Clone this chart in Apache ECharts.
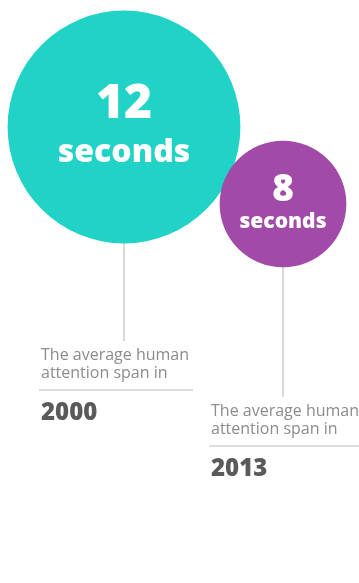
<!DOCTYPE html>
<html><head><meta charset="utf-8">
<script src="https://cdn.jsdelivr.net/npm/echarts@6/dist/echarts.min.js"></script>
<style>html,body{margin:0;padding:0;background:#fff}#c{width:359px;height:583px}</style>
</head><body><div id="c"></div>
<script>
// ---- data ----
const years = ['2000', '2013'];
const seconds = [12, 8];
const unitLabel = 'seconds';
const captionLines = ['The average human', 'attention span in'];

// ---- styles / layout ----
const colors = ['#20D3C6', '#A24AA7'];
const numberFont = [48, 37];
const unitFont = [32, 21];
const numberOffset = [-23, -14];
const unitOffset = [26, 18];
const captionLeft = [41, 211];
const captionY = [355, 411];
const FONT = '"Open Sans", "DejaVu Sans", sans-serif';

function diameter(v) { return 5.6 * Math.pow(v, 1.5); }

const chart = echarts.init(document.getElementById('c'), null, { renderer: 'canvas' });
chart.setOption({
  backgroundColor: '#ffffff',
  animation: false,
  grid: { left: 124, right: 76, top: 50, height: 231 },
  xAxis: { type: 'category', data: years, boundaryGap: false, show: false },
  yAxis: { type: 'value', min: 4, max: 16, show: false },
  series: [{
    type: 'custom',
    data: years.map((y, i) => [i, seconds[i]]),
    renderItem(params, api) {
      const i = params.dataIndex;
      const v = api.value(1);
      const c = api.coord([api.value(0), v]);
      const r = diameter(v) / 2;
      const cy0 = captionY[i];
      const lx = captionLeft[i];
      return {
        type: 'group',
        children: [
          { type: 'line', z2: 0, shape: { x1: c[0], y1: c[1] + r - 2, x2: c[0], y2: cy0 - 14 },
            style: { stroke: '#d9d9d9', lineWidth: 2 } },
          { type: 'circle', z2: 1, shape: { cx: c[0], cy: c[1], r: r },
            style: { fill: colors[i] } },
          { type: 'text', z2: 2, style: { text: String(v), x: c[0], y: c[1] + numberOffset[i],
            align: 'center', verticalAlign: 'middle', fill: '#ffffff',
            font: `800 ${numberFont[i]}px ${FONT}` } },
          { type: 'text', z2: 2, style: { text: unitLabel, x: c[0], y: c[1] + unitOffset[i],
            align: 'center', verticalAlign: 'middle', fill: '#ffffff',
            font: `800 ${unitFont[i]}px ${FONT}` } },
          { type: 'text', style: { text: captionLines[0], x: lx, y: cy0,
            align: 'left', verticalAlign: 'middle', fill: '#8c8c8c', font: `400 16px ${FONT}` } },
          { type: 'text', style: { text: captionLines[1], x: lx, y: cy0 + 18,
            align: 'left', verticalAlign: 'middle', fill: '#8c8c8c', font: `400 16px ${FONT}` } },
          { type: 'line', shape: { x1: lx - 2, y1: cy0 + 35, x2: lx + 152, y2: cy0 + 35 },
            style: { stroke: '#d2d2d2', lineWidth: 1.5 } },
          { type: 'text', style: { text: years[i], x: lx, y: cy0 + 58,
            align: 'left', verticalAlign: 'middle', fill: '#5a5a5a', font: `800 24px ${FONT}` } }
        ]
      };
    }
  }]
});
</script>
</body></html>
